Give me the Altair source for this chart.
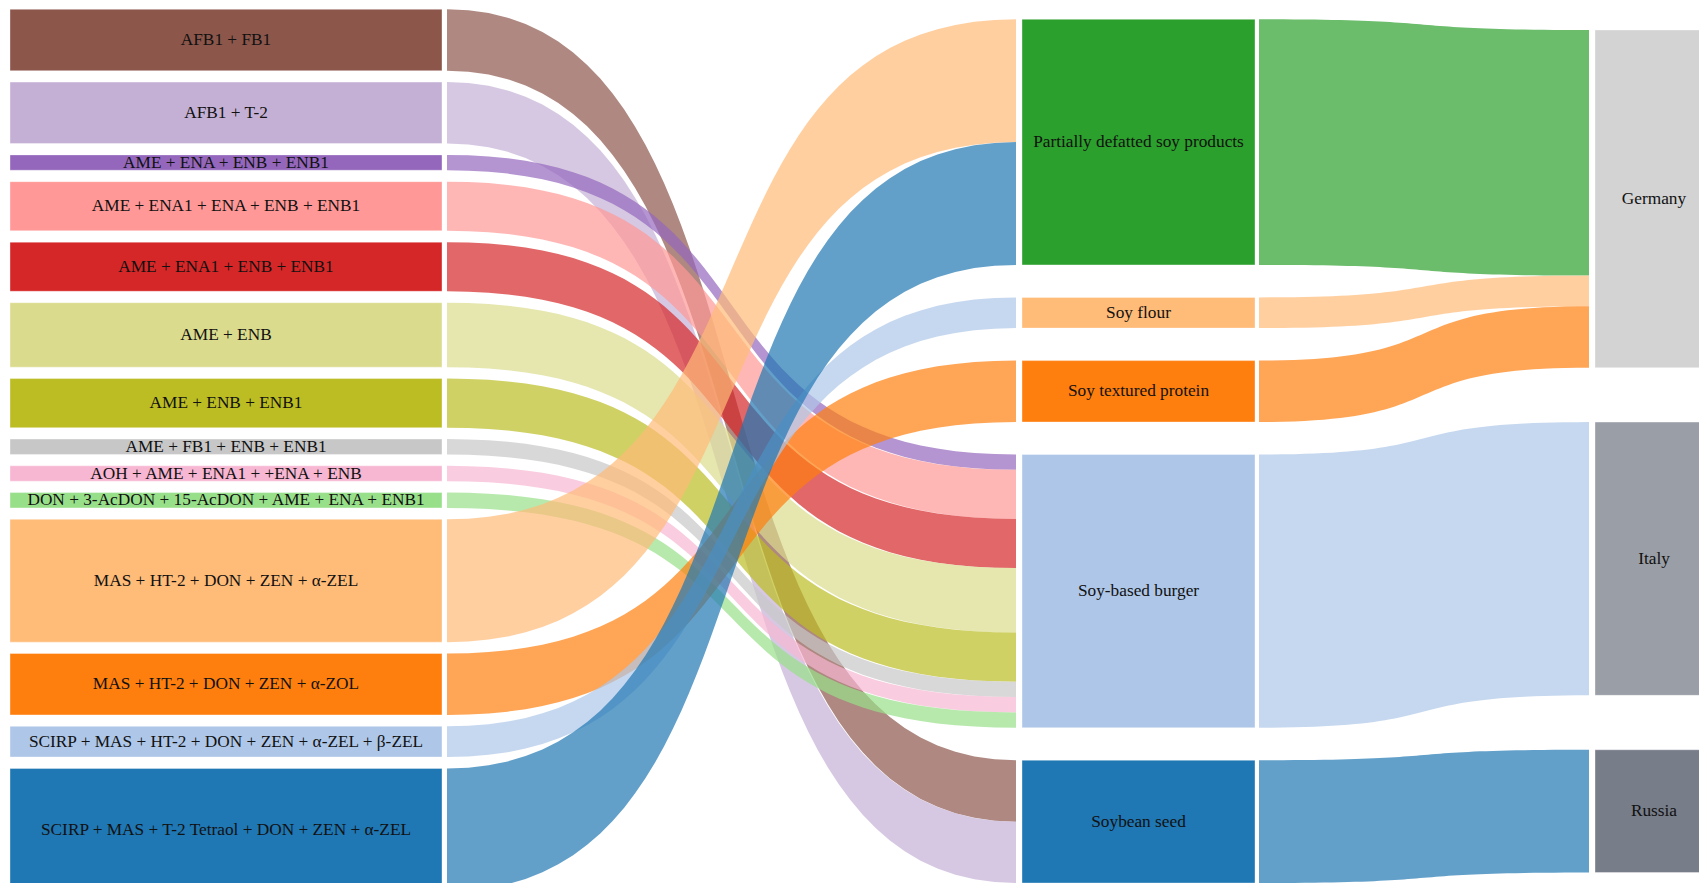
import altair as alt
import pandas as pd

# ---------------- data ----------------
left_nodes = [
    "AFB1 + FB1",
    "AFB1 + T-2",
    "AME + ENA + ENB + ENB1",
    "AME + ENA1 + ENA + ENB + ENB1",
    "AME + ENA1 + ENB + ENB1",
    "AME + ENB",
    "AME + ENB + ENB1",
    "AME + FB1 + ENB + ENB1",
    "AOH + AME + ENA1 + +ENA + ENB",
    "DON + 3-AcDON + 15-AcDON + AME + ENA + ENB1",
    "MAS + HT-2 + DON + ZEN + α-ZEL",
    "MAS + HT-2 + DON + ZEN + α-ZOL",
    "SCIRP + MAS + HT-2 + DON + ZEN + α-ZEL + β-ZEL",
    "SCIRP + MAS + T-2 Tetraol + DON + ZEN + α-ZEL",
]
left_values = [4, 4, 1, 3.2, 3.2, 4.2, 3.2, 1, 1, 1, 8, 4, 2, 8]
left_targets = [
    "Soybean seed", "Soybean seed",
    "Soy-based burger", "Soy-based burger", "Soy-based burger", "Soy-based burger",
    "Soy-based burger", "Soy-based burger", "Soy-based burger", "Soy-based burger",
    "Partially defatted soy products", "Soy textured protein", "Soy flour",
    "Partially defatted soy products",
]
left_colors = [
    "#8c564b", "#c5b0d5", "#9467bd", "#ff9896", "#d62728", "#dbdb8d", "#bcbd22",
    "#c7c7c7", "#f7b6d2", "#98df8a", "#ffbb78", "#ff7f0e", "#aec7e8", "#1f77b4",
]

mid_nodes = [
    "Partially defatted soy products",
    "Soy flour",
    "Soy textured protein",
    "Soy-based burger",
    "Soybean seed",
]
mid_targets = ["Germany", "Germany", "Germany", "Italy", "Russia"]
mid_colors = ["#2ca02c", "#ffbb78", "#ff7f0e", "#aec7e8", "#1f77b4"]

right_nodes = ["Germany", "Italy", "Russia"]
right_colors = ["#d3d3d3", "#9a9ea6", "#787d8a"]

# ---------------- layout (drawing units) ----------------
KY = 15.35                      # drawing units per value unit
COL_TOP = [9.3, 19.3, 30.0]
COL_GAP = [11.4, 32.5, 54.4]
COL_X = [(10, 442), (1022, 1255), (1595, 1713)]
LINK_X = [(447, 1016), (1259, 1589)]
CURV = 0.62
NPTS = 48

mid_values = [sum(v for v, t in zip(left_values, left_targets) if t == m) for m in mid_nodes]
right_values = [sum(v for v, t in zip(mid_values, mid_targets) if t == r) for r in right_nodes]

columns = [
    (left_nodes, left_values, left_colors),
    (mid_nodes, mid_values, mid_colors),
    (right_nodes, right_values, right_colors),
]

node_rows = []
node_pos = {}
for ci, (names, vals, cols) in enumerate(columns):
    y = COL_TOP[ci]
    for n, v, c in zip(names, vals, cols):
        y0, y1 = y, y + v * KY
        node_pos[n] = (ci, y0, y1, c)
        x0, x1 = COL_X[ci]
        node_rows.append(dict(name=n, x0=x0, x1=x1, y0=y0, y1=y1,
                              xc=(x0 + x1) / 2, yc=(y0 + y1) / 2, color=c))
        y = y1 + COL_GAP[ci]
nodes_df = pd.DataFrame(node_rows)

links = [(s, t, v) for s, t, v in zip(left_nodes, left_targets, left_values)]
links += [(s, t, v) for s, t, v in zip(mid_nodes, mid_targets, mid_values)]

src_off = {n: node_pos[n][1] for n in node_pos}
tgt_off = {n: node_pos[n][1] for n in node_pos}
link_geo = []
for s, t, v in sorted(links, key=lambda l: (node_pos[l[0]][0], node_pos[l[0]][1])):
    w = v * KY
    ys = src_off[s]
    src_off[s] += w
    yt = tgt_off[t]
    tgt_off[t] += w
    link_geo.append((s, t, ys, yt, w))

rows = []
for li, (s, t, ys, yt, w) in enumerate(link_geo):
    ci = node_pos[s][0]
    x0, x1 = LINK_X[ci]
    dx = x1 - x0
    cx1, cx2 = x0 + CURV * dx, x1 - CURV * dx
    for k in range(NPTS + 1):
        u = k / NPTS
        a, b, c_, d = (1 - u) ** 3, 3 * (1 - u) ** 2 * u, 3 * (1 - u) * u ** 2, u ** 3
        x = a * x0 + b * cx1 + c_ * cx2 + d * x1
        y = (a + b) * ys + (c_ + d) * yt
        rows.append(dict(link=f"L{li:02d}", x=x, ytop=y, ybot=y + w, color=node_pos[s][3]))
links_df = pd.DataFrame(rows)

xs = alt.Scale(domain=[8, 1699], nice=False, zero=False)
ysc = alt.Scale(domain=[8, 883], nice=False, zero=False, reverse=True)

link_layer = alt.Chart(links_df).mark_area(
    opacity=0.7, clip=True, orient="vertical", interpolate="linear"
).encode(
    x=alt.X("x:Q", scale=xs, axis=None),
    y=alt.Y("ytop:Q", scale=ysc, axis=None, stack=None),
    y2="ybot:Q",
    color=alt.Color("color:N", scale=None),
    detail="link:N",
)

node_layer = alt.Chart(nodes_df).mark_rect(
    clip=True, stroke="white", strokeWidth=0.6, strokeOpacity=0.6
).encode(
    x=alt.X("x0:Q", scale=xs, axis=None),
    x2="x1:Q",
    y=alt.Y("y0:Q", scale=ysc, axis=None),
    y2="y1:Q",
    color=alt.Color("color:N", scale=None),
)

text_layer = alt.Chart(nodes_df).mark_text(
    font="Liberation Serif", fontSize=17.3, color="#111111",
    align="center", baseline="middle", clip=True
).encode(
    x=alt.X("xc:Q", scale=xs, axis=None),
    y=alt.Y("yc:Q", scale=ysc, axis=None),
    text="name:N",
)

chart = alt.layer(link_layer, node_layer, text_layer).properties(
    width=1691, height=875, padding=0, background="white"
).configure_view(stroke=None)

chart.save("out.html", embed_options={"renderer": "svg", "actions": False})
